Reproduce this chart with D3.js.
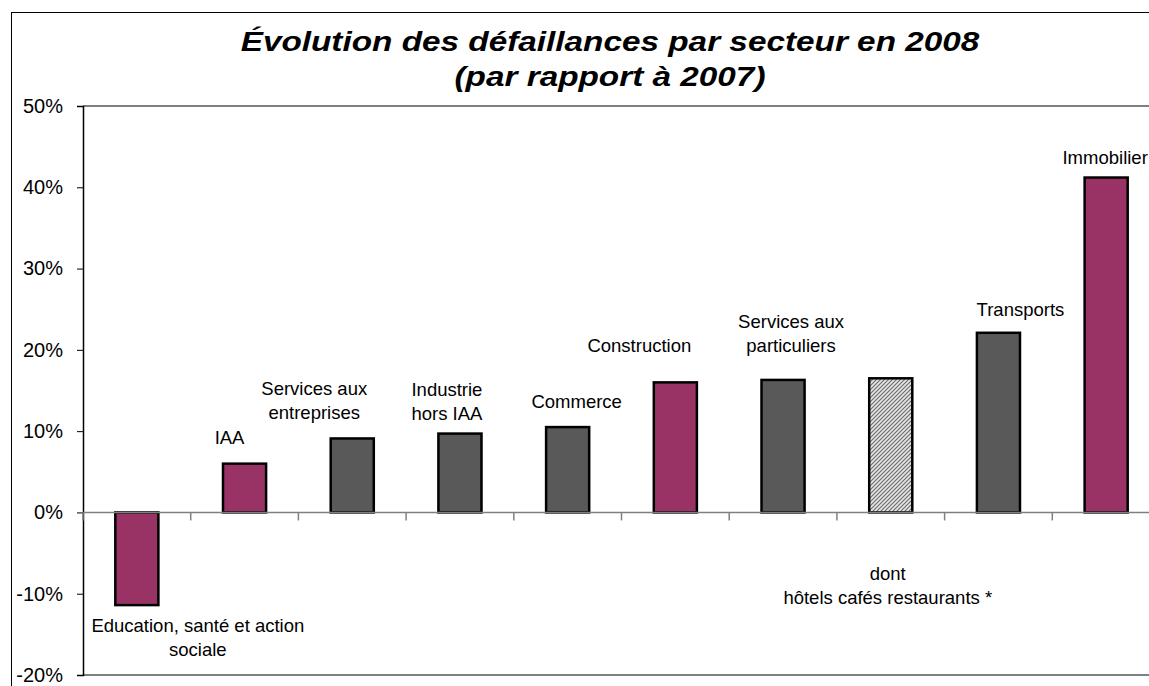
<!DOCTYPE html>
<html>
<head>
<meta charset="utf-8">
<script src="https://cdn.jsdelivr.net/npm/d3@7"></script>
<style>
  body { margin: 0; background: #fff; }
  text { font-family: "Liberation Sans", Arial, sans-serif; fill: #000; }
</style>
</head>
<body>
<div id="chart"></div>
<script>
const width = 1149;
const height = 686;

// data
const categories = ["Education, santé et action sociale", "IAA", "Services aux entreprises",
  "Industrie hors IAA", "Commerce", "Construction", "Services aux particuliers",
  "dont hôtels cafés restaurants *", "Transports", "Immobilier"];
const values = [-0.114, 0.060, 0.091, 0.097, 0.105, 0.160, 0.163, 0.165, 0.221, 0.412];
const groups = ["pink", "pink", "grey", "grey", "grey", "pink", "grey", "hatch", "grey", "pink"];
const labelLines = [
  ["Education, santé et action", "sociale"],
  ["IAA"],
  ["Services aux", "entreprises"],
  ["Industrie", "hors IAA"],
  ["Commerce"],
  ["Construction"],
  ["Services aux", "particuliers"],
  ["dont", "hôtels cafés restaurants *"],
  ["Transports"],
  ["Immobilier"]
];
const yTicks = [-0.2, -0.1, 0, 0.1, 0.2, 0.3, 0.4, 0.5];

// label placement (offset from bar centre / bar end)
const labelDx = [61, -15, -38, -13, 9, -36, 8, -3, 22, -1];
const labelDy = [27, -20, -43, -38, -19, -30, -52, 202, -17, -14];

const colors = { pink: "#993366", grey: "#595959", hatch: "url(#hatch)" };

const svg = d3.select("#chart").append("svg")
  .attr("width", width)
  .attr("height", height);

// hatch pattern for the "dont" bar
const pat = svg.append("defs").append("pattern")
  .attr("id", "hatch")
  .attr("width", 4).attr("height", 4)
  .attr("patternUnits", "userSpaceOnUse");
pat.append("rect").attr("width", 4).attr("height", 4).attr("fill", "#e6e6e6");
pat.append("path").attr("d", "M0,4 L4,0 M-1,1 L1,-1 M3,5 L5,3")
  .attr("stroke", "#6e6e6e").attr("stroke-width", 1.2);

// outer frame
svg.append("rect")
  .attr("x", 11.5).attr("y", 12.5)
  .attr("width", 1200).attr("height", 700)
  .attr("fill", "none").attr("stroke", "#000").attr("stroke-width", 1);

const x = d3.scaleBand()
  .domain(categories)
  .range([83, 1160])
  .paddingInner(0.6)
  .paddingOuter(0.3);

const y = d3.scaleLinear()
  .domain([-0.2, 0.5])
  .range([675, 106]);

// plot area frame (top and bottom)
svg.append("line")
  .attr("x1", 83).attr("x2", width)
  .attr("y1", y(0.5)).attr("y2", y(0.5))
  .attr("stroke", "#808080").attr("stroke-width", 2);
svg.append("line")
  .attr("x1", 83).attr("x2", width)
  .attr("y1", y(-0.2)).attr("y2", y(-0.2))
  .attr("stroke", "#808080").attr("stroke-width", 2);

// y axis
const pct = d3.format(".0%");
const yAxis = d3.axisLeft(y)
  .tickValues(yTicks)
  .tickFormat(d => pct(d).replace("−", "-"))
  .tickSize(6)
  .tickPadding(14);

const gy = svg.append("g")
  .attr("transform", "translate(83,0)")
  .call(yAxis);
gy.select(".domain").attr("stroke", "#000").attr("stroke-width", 1.5);
gy.selectAll(".tick line").attr("stroke", "#000");
gy.selectAll(".tick text")
  .style("font-size", "20px")
  .attr("fill", "#000");

// bars
svg.selectAll("rect.bar")
  .data(values)
  .enter()
  .append("rect")
  .attr("class", "bar")
  .attr("x", (d, i) => x(categories[i]))
  .attr("y", d => y(Math.max(0, d)))
  .attr("width", x.bandwidth())
  .attr("height", d => Math.abs(y(d) - y(0)))
  .attr("fill", (d, i) => colors[groups[i]])
  .attr("stroke", "#000")
  .attr("stroke-width", 2.5);

// zero line with category ticks
svg.append("line")
  .attr("x1", 83).attr("x2", width)
  .attr("y1", y(0)).attr("y2", y(0))
  .attr("stroke", "#808080").attr("stroke-width", 1.5);

const step = x.step();
svg.selectAll("line.xtick")
  .data(d3.range(categories.length))
  .enter()
  .append("line")
  .attr("class", "xtick")
  .attr("x1", i => 83 + i * step)
  .attr("x2", i => 83 + i * step)
  .attr("y1", y(0))
  .attr("y2", y(0) + 8)
  .attr("stroke", "#808080")
  .attr("stroke-width", 1.5);

// category labels
labelLines.forEach((lines, i) => {
  const cx = x(categories[i]) + x.bandwidth() / 2 + labelDx[i];
  const cy = y(values[i]) + labelDy[i];
  const t = svg.append("text")
    .attr("text-anchor", "middle")
    .style("font-size", "18.5px");
  lines.forEach((ln, j) => {
    t.append("tspan")
      .attr("x", cx)
      .attr("y", cy + j * 24)
      .text(ln);
  });
});

// title (glyphs stretched horizontally like the original)
const title = svg.append("g")
  .attr("transform", "translate(610,0) scale(1.19,1)");
title.append("text")
  .attr("x", 0).attr("y", 51)
  .attr("text-anchor", "middle")
  .style("font-size", "28px")
  .style("font-weight", "bold")
  .style("font-style", "italic")
  .text("Évolution des défaillances par secteur en 2008");
title.append("text")
  .attr("x", 0).attr("y", 86)
  .attr("text-anchor", "middle")
  .style("font-size", "28px")
  .style("font-weight", "bold")
  .style("font-style", "italic")
  .text("(par rapport à 2007)");
</script>
</body>
</html>
